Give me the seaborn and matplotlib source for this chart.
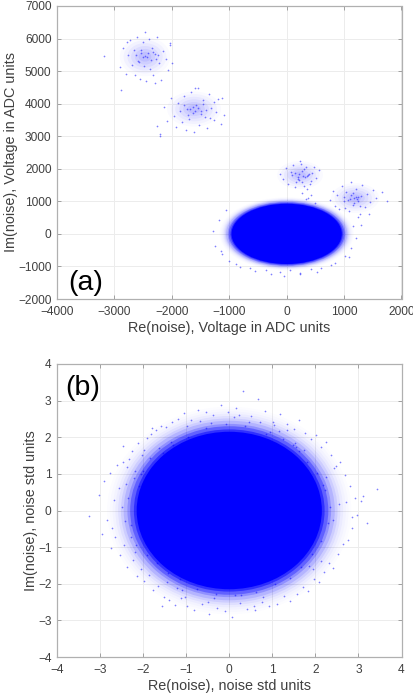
import matplotlib
matplotlib.use('Agg')
import seaborn as sns
import matplotlib.pyplot as plt
from matplotlib.patches import Ellipse

sns.set_theme(style="ticks")
plt.rcParams['font.family'] = ['Liberation Sans', 'DejaVu Sans']

BLUE = '#0000ff'
GREY = '#404040'

# top panel: solid cloud and the four small clusters
a_core = [(0, 0, 960, 925)]
a_clusters = [(-2467, 5441, 440, 600), (-1613, 3835, 470, 540), (233, 1808, 400, 430), (1192, 1100, 420, 460)]

# bottom panel: solid cloud
b_core = [(0, 0, 2.15, 2.15)]
b_clusters = []

# how the density falls away from each shape
a_halo_scale = [1.22, 1.20, 1.18, 1.16, 1.14, 1.12, 1.10, 1.07, 1.05, 1.02]
b_halo_scale = [1.32, 1.29, 1.26, 1.23, 1.20, 1.17, 1.14, 1.10, 1.07, 1.03]
halo_alpha = [0.012, 0.015, 0.02, 0.03, 0.05, 0.08, 0.12, 0.20, 0.32, 0.50]
cluster_scale = [1.0, 0.85, 0.7, 0.55, 0.4, 0.25]
cluster_alpha = [0.02, 0.03, 0.04, 0.05, 0.06, 0.07]

# top panel: single dots
a_x = [-2900, -2850, -2800, -2760, -2720, -2700, -2660, -2640, -2610, -2590, -2560, -2540, -2510, -2490, -2470,
       -2450, -2430, -2400, -2380, -2350, -2320, -2290, -2260, -2230, -2190, -2150, -2110, -2070, -2030, -2000,
       -2620, -2580, -2530, -2500, -2460, -2420, -2370, -2330, -2280, -2240, -3180, -2880, -2300, -2040, -2780,
       -2130, -2090, -2010, -1960, -1930, -1890, -1860, -1830, -1790, -1760, -1730, -1700, -1670, -1640, -1610,
       -1580, -1550, -1520, -1490, -1460, -1420, -1390, -1350, -1310, -1270, -1230, -1190, -1150, -1780, -1720,
       -1680, -1630, -1590, -1540, -1500, -1450, -1400, -1340, -1260, -1120, -1100, -2260, -2200, -2210, -1590,
       -120, -60, -20, 30, 70, 110, 150, 190, 230, 270, 310, 350, 390, 430, 470, 510,
       90, 140, 200, 260, 320, 380, 440, 170, 220, 280, 340, 210, 250, 300, 360, 410, 560,
       760, 800, 840, 880, 920, 960, 1000, 1040, 1080, 1120, 1160, 1200, 1240, 1280, 1320, 1360, 1400, 1450, 1500, 1560,
       1000, 1060, 1120, 1180, 1240, 1300, 1110, 1170, 1230, 1150, 1210, 1270, 1750, 1660, 1430,
       -1290, -1240, -1180, -1130, -1060, -1010, -820, -640, -360, -120, 60, 240, 420, 600, 780, 1010, 1120, 1210, 1290,
       -1150, -880, -560, -280, -40, 230, 520, 840, 1080, 1160, 1010, 1240, 430, 330, 260, 380, 500]
a_y = [5130, 5700, 4920, 5480, 5950, 5190, 5660, 4870, 6040, 5310, 4760, 5560, 5900, 5150, 6210,
       4700, 5430, 5980, 5060, 5720, 4890, 5520, 6050, 5250, 4730, 5620, 5380, 5040, 5800, 5240,
       5510, 5290, 5640, 5420, 5470, 5550, 5330, 5580, 5370, 5480, 5460, 4420, 4640, 5850, 5900,
       3900, 3460, 4170, 3620, 3290, 4010, 3770, 3430, 4230, 3180, 3850, 3540, 4360, 3700, 3120,
       3950, 4480, 3330, 3780, 4120, 3600, 3240, 4290, 3880, 3500, 3740, 4130, 3380, 3960, 3650,
       3830, 3910, 3760, 3870, 3690, 3990, 3800, 3560, 4040, 4180, 3650, 3320, 3060, 3020, 4490,
       1830, 1680, 2010, 1540, 1900, 2130, 1430, 1760, 2240, 1580, 1980, 1370, 1850, 1620, 2050, 1720,
       1800, 1870, 1690, 1930, 1740, 1820, 1880, 1590, 1640, 1790, 2060, 1850, 2160, 1460, 1780, 1520, 1950,
       1040, 1320, 860, 1180, 760, 1470, 1000, 1280, 690, 1590, 900, 1390, 1130, 620, 1510, 840, 1230, 980, 1360, 1090,
       1120, 1040, 1190, 1100, 1000, 1150, 1080, 960, 1070, 1250, 1130, 870, 1010, 1290, 620,
       90, -360, 420, -610, 740, -820, -1010, -1050, -1110, -1180, -1100, -1190, -1080, -1060, -950, -680, -420, -120, 280,
       -540, -920, -1130, -1240, -1290, -1240, -1170, -890, -720, 240, 790, 530, 1180, 1060, 1260, 1090, 950]

# bottom panel: single dots
b_x = [-3.25, -3.02, -2.95, -2.91, -2.84, -2.78, -2.74, -2.68, -2.66, -2.61, -2.57, -2.54, -2.49, -2.46, -2.44, -2.40,
       -2.37, -2.33, -2.29, -2.26, -2.24, -2.19, -2.15, -2.12, -2.06, -2.03, -1.98, -1.92, -1.87, -1.82, -1.76, -1.71,
       -1.65, -1.58, -1.52, -1.46, -1.39, -1.32, -1.26, -1.18, -1.11, -1.05, -0.97, -0.89, -0.81, -0.72, -0.63, -0.55,
       -0.46, -0.37, -0.28, -0.19, -0.10, -0.02, 0.07, 0.16, 0.24, 0.33, 0.41, 0.50, 0.59, 0.67, 0.76, 0.84, 0.93,
       1.02, 1.10, 1.18, 1.27, 1.35, 1.42, 1.50, 1.57, 1.63, 1.71, 1.77, 1.83, 1.90, 1.96, 2.02, 2.08, 2.14, 2.19,
       2.25, 2.31, 2.36, 2.41, 2.47, 2.52, 2.58, 2.63, 2.69, 2.75, 2.80, 2.86, 2.92, 2.97, 3.05, 3.21, 3.42,
       -2.47, -1.80, -1.57, -1.22, -0.98, -0.68, -0.35, 0.12, 0.46, 0.58, 0.78, 1.05, 1.33, 1.74, 2.13, 2.44, 2.72,
       -2.72, -2.38, -2.20, -1.98, -1.45, -1.02, -0.50, 0.22, 0.71, 1.16, 1.52, 1.94, 2.24, 2.55, 2.86, 3.10,
       -2.35, -2.28, -2.22, -2.16, -2.10, -2.01, -1.90, -1.79,
       -1.68, -1.55, -1.42, -1.30, -1.14, -0.95, -0.76, -0.54,
       -0.31, -0.08, 0.13, 0.37, 0.62, 0.85, 1.07, 1.25,
       1.40, 1.55, 1.67, 1.80, 1.92, 2.03, 2.12, 2.22,
       2.29, 2.35, 2.40, -2.41, -2.05, -1.62, -1.10, -0.42,
       0.28, 0.95, 1.48, 1.86, 2.18, -1.84, -1.36, 1.63]
b_y = [-0.15, 0.42, -0.64, 0.81, -0.25, 1.02, -1.02, 0.30, -0.72, 1.24, 0.62, -1.21, 0.10, 1.32, -0.95, 0.73,
       -1.55, 1.41, -0.40, 1.63, -1.36, 1.07, -1.79, 1.83, -1.60, 1.51, -1.92, 1.98, -1.75, 2.08, -2.16, 2.21,
       -2.05, 2.32, -2.36, 2.28, -2.44, 2.42, -2.57, 2.51, -2.39, 2.66, -2.62, 2.47, -2.71, 2.75, -2.55, 2.70,
       -2.82, 2.60, -2.66, 2.88, -2.75, 2.69, -2.91, 2.79, -2.52, 3.25, -2.68, 2.58, -2.73, 3.05, -2.49, 2.71,
       -2.60, 2.42, -2.56, 2.63, -2.34, 2.35, -2.47, 2.22, -2.29, 2.48, -2.09, 2.12, -2.21, 1.94, -1.86, 2.05,
       -1.95, 1.73, -1.68, 1.86, -1.44, 1.52, -1.56, 1.21, -1.20, 1.33, -0.92, 0.96, -0.81, 0.68, -0.48, 0.35,
       -0.12, 0.26, -0.35, 0.60,
       1.76, 2.24, -2.62, -2.12, 2.30, 2.45, -2.40, 2.54, 2.42, -2.62, -2.36, 2.33, 2.20, 1.64, -1.38, 1.15, 0.22,
       -0.48, 1.20, -1.12, 1.66, -1.96, -2.36, -2.50, 2.62, 2.41, 2.18, 1.84, -1.60, 0.92, 0.18, -0.18, 0.40,
       0.35, -0.72, 0.88, -0.95, 0.66, 1.08, -1.22, 1.20,
       -1.44, 1.58, -1.70, 1.80, -1.87, 2.02, -2.14, 2.25,
       -2.28, 2.35, -2.32, 2.30, -2.22, 2.10, -2.00, 1.94,
       -1.84, 1.74, -1.55, 1.32, -1.18, 1.02, -0.82, 0.55,
       -0.35, 0.10, -0.25, -0.30, 1.00, 1.72, -2.18, 2.38,
       -2.30, 2.15, 1.78, -1.52, 0.70, 1.44, 1.86, 1.62]


def draw_panel(ax, core, halo_scale, clusters, x, y, xlim, ylim, xticks, yticks, xlabel, ylabel, tag, tag_pos):
    for cx, cy, rx, ry in core:
        for s, a in zip(halo_scale, halo_alpha):
            ax.add_patch(Ellipse((cx, cy), 2 * rx * s, 2 * ry * s, color=BLUE, alpha=a, lw=0, zorder=2))
        ax.add_patch(Ellipse((cx, cy), 2 * rx, 2 * ry, color=BLUE, lw=0, zorder=2))
    for cx, cy, rx, ry in clusters:
        for s, a in zip(cluster_scale, cluster_alpha):
            ax.add_patch(Ellipse((cx, cy), 2 * rx * s, 2 * ry * s, color=BLUE, alpha=a, lw=0, zorder=2))
    sns.scatterplot(x=x, y=y, color=BLUE, s=1.5, alpha=0.5, linewidth=0, ax=ax, zorder=3)
    ax.set_xlim(xlim)
    ax.set_ylim(ylim)
    ax.set_xticks(xticks)
    ax.set_yticks(yticks)
    ax.grid(True, color='#ececec', lw=0.7)
    ax.set_axisbelow(True)
    ax.tick_params(direction='in', length=3, width=0.7, color='#a0a0a0', labelcolor=GREY, labelsize=8.6,
                   top=True, right=True)
    ax.tick_params(axis='x', pad=5)
    ax.tick_params(axis='y', pad=4)
    for s in ax.spines.values():
        s.set_color('#b0b0b0')
        s.set_linewidth(0.9)
    ax.set_xlabel(xlabel, fontsize=10.4, color=GREY, labelpad=2)
    ax.set_ylabel(ylabel, fontsize=10.4, color=GREY, labelpad=0)
    ax.text(tag_pos[0], tag_pos[1], tag, fontsize=20.5, color='black', ha='left', va='center')


fig = plt.figure(figsize=(4.14, 6.99), dpi=100)
ax1 = fig.add_axes([57 / 414, 1 - 299 / 699, 344.5 / 414, 293 / 699])
ax2 = fig.add_axes([57 / 414, 1 - 657 / 699, 344.5 / 414, 293 / 699])

draw_panel(ax1, a_core, a_halo_scale, a_clusters, a_x, a_y, (-4000, 2000), (-2000, 7000),
           [-4000, -3000, -2000, -1000, 0, 1000, 2000],
           [-2000, -1000, 0, 1000, 2000, 3000, 4000, 5000, 6000, 7000],
           'Re(noise), Voltage in ADC units', 'Im(noise), Voltage in ADC units', '(a)', (-3808, -1509))
draw_panel(ax2, b_core, b_halo_scale, b_clusters, b_x, b_y, (-4, 4), (-4, 4),
           [-4, -3, -2, -1, 0, 1, 2, 3, 4], [-4, -3, -2, -1, 0, 1, 2, 3, 4],
           'Re(noise), noise std units', 'Im(noise), noise std units', '(b)', (-3.81, 3.35))

plt.savefig('out.png', dpi=100)
